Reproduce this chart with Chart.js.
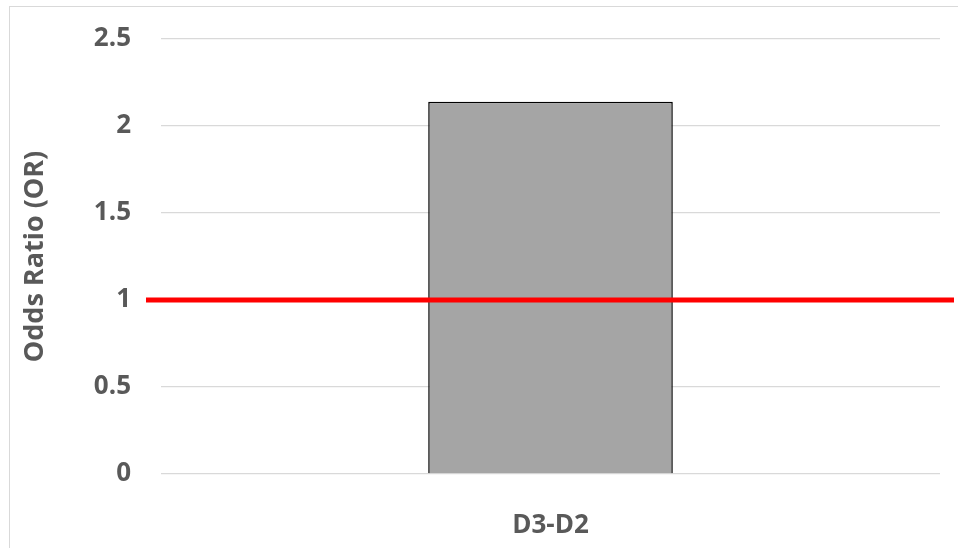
<!DOCTYPE html>
<html>
<head>
<meta charset="utf-8">
<script src="https://cdn.jsdelivr.net/npm/chart.js@4.4.1/dist/chart.umd.min.js"></script>
<style>
  html, body { margin: 0; padding: 0; background: #fff; overflow: hidden; }
  #wrap { position: relative; width: 958px; height: 548px; overflow: hidden; }
  #frame { position: absolute; left: 9px; top: 6px; width: 1000px; height: 600px; border: 1px solid #d9d9d9; }
  #chart { position: absolute; left: 0; top: 0; }
</style>
</head>
<body>
<div id="wrap">
  <div id="frame"></div>
  <canvas id="chart" width="958" height="548"></canvas>
</div>
<script>
const categories = ['D3-D2'];
const oddsRatio = [2.14];
const yTicks = [0, 0.5, 1, 1.5, 2, 2.5];
const refValue = 1;

const textColor = '#595959';
const fontFamily = '"Open Sans", "DejaVu Sans", sans-serif';

// horizontal reference line at OR = 1, running past both ends of the plot
const refLinePlugin = {
  id: 'refLine',
  afterDatasetsDraw(chart) {
    const { ctx, chartArea, scales } = chart;
    const y = scales.y.getPixelForValue(refValue);
    ctx.save();
    ctx.strokeStyle = '#ff0000';
    ctx.lineWidth = 5;
    ctx.beginPath();
    ctx.moveTo(chartArea.left - 15, y);
    ctx.lineTo(954, y);
    ctx.stroke();
    ctx.restore();
  }
};

new Chart(document.getElementById('chart'), {
  type: 'bar',
  data: {
    labels: categories,
    datasets: [{
      data: oddsRatio,
      backgroundColor: '#a5a5a5',
      borderColor: '#000000',
      borderWidth: 1.5,
      categoryPercentage: 1,
      barPercentage: 0.314
    }]
  },
  options: {
    responsive: false,
    animation: false,
    layout: { padding: { left: 10, right: 18, top: 39, bottom: 0 } },
    plugins: { legend: { display: false }, tooltip: { enabled: false } },
    scales: {
      x: {
        grid: { display: false },
        border: { display: false },
        ticks: {
          color: textColor,
          font: { family: fontFamily, size: 26, weight: 'bold' },
          padding: 28
        },
        afterFit(scale) { scale.height = 74; }
      },
      y: {
        min: 0,
        max: 2.5,
        afterBuildTicks(scale) { scale.ticks = yTicks.map(v => ({ value: v })); },
        grid: { color: '#d9d9d9', lineWidth: 1.3, drawTicks: false },
        border: { display: false },
        ticks: {
          color: textColor,
          font: { family: fontFamily, size: 26, weight: 'bold' },
          padding: 30,
          callback: v => String(v)
        },
        title: {
          display: true,
          text: 'Odds Ratio (OR)',
          color: textColor,
          padding: { top: 9, bottom: 4 },
          font: { family: fontFamily, size: 27, weight: 'bold' }
        },
        afterFit(scale) {
          scale.width = 151;
          scale.paddingTop = 0;
          scale.paddingBottom = 0;
        }
      }
    }
  },
  plugins: [refLinePlugin]
});
</script>
</body>
</html>
